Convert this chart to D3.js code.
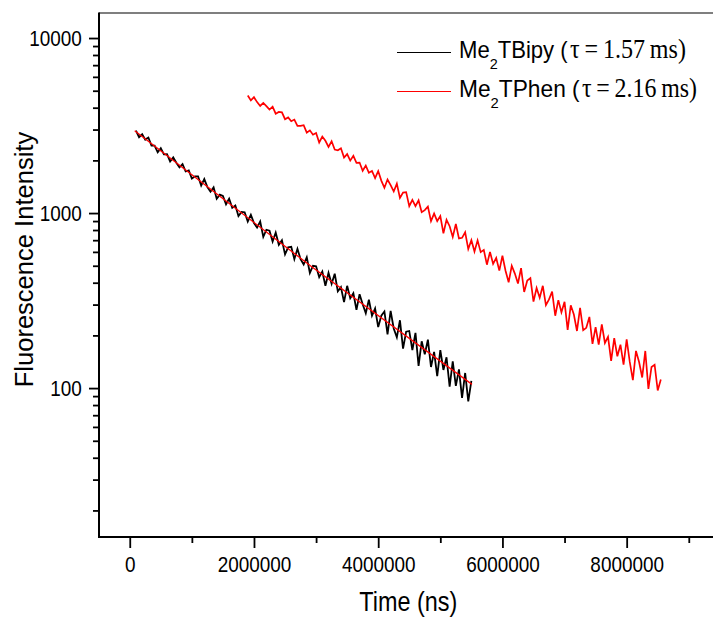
<!DOCTYPE html>
<html>
<head>
<meta charset="utf-8">
<script src="https://cdn.jsdelivr.net/npm/d3@7"></script>
<style>
  body { margin: 0; background: #fff; }
  svg { display: block; background: #fff; }
</style>
</head>
<body>
<svg id="chart" width="713" height="618"></svg>
<script>
// ---------------- DATA (time in microseconds, intensity in counts) ----------------
const bipyTime = [100,150,200,250,300,350,400,450,500,550,600,650,700,750,800,850,900,950,1000,1050,
  1100,1150,1200,1250,1300,1350,1400,1450,1500,1550,1600,1650,1700,1750,1800,1850,1900,1950,2000,2050,
  2100,2150,2200,2250,2300,2350,2400,2450,2500,2550,2600,2650,2700,2750,2800,2850,2900,2950,3000,3050,
  3100,3150,3200,3250,3300,3350,3400,3450,3500,3550,3600,3650,3700,3750,3800,3850,3900,3950,4000,4050,
  4100,4150,4200,4250,4300,4350,4400,4450,4500,4550,4600,4650,4700,4750,4800,4850,4900,4950,5000,5050,
  5100,5150,5200,5250,5300,5350,5400,5450,5500];
const bipyIntensity = [2961,2713,2821,2628,2701,2431,2428,2223,2349,2165,
  2172,1972,2081,1939,1823,1903,1728,1751,1575,1622,
  1622,1434,1563,1406,1324,1403,1206,1274,1251,1122,
  1208,1071,1105,962,1016,1011,895,976,877,826,
  895,731,803,793,687,773,659,700,581,637,
  642,545,625,545,508,559,455,500,496,430,
  463,384,455,394,450,357,377,310,384,326,
  348,280,344,301,268,320,259,285,223,259,
  274,203,276,219,195,244,168,210,212,165,
  207,134,185,156,189,132,161,117,165,127,
  150,102,142,103,128,88,122,84,110];

const phenTime = [1900,1950,2000,2050,2100,2150,2200,2250,2300,2350,2400,2450,2500,2550,2600,2650,2700,2750,2800,2850,
  2900,2950,3000,3050,3100,3150,3200,3250,3300,3350,3400,3450,3500,3550,3600,3650,3700,3750,3800,3850,
  3900,3950,4000,4050,4100,4150,4200,4250,4300,4350,4400,4450,4500,4550,4600,4650,4700,4750,4800,4850,
  4900,4950,5000,5050,5100,5150,5200,5250,5300,5350,5400,5450,5500,5550,5600,5650,5700,5750,5800,5850,
  5900,5950,6000,6050,6100,6150,6200,6250,6300,6350,6400,6450,6500,6550,6600,6650,6700,6750,6800,6850,
  6900,6950,7000,7050,7100,7150,7200,7250,7300,7350,7400,7450,7500,7550,7600,7650,7700,7750,7800,7850,
  7900,7950,8000,8050,8100,8150,8200,8250,8300,8350,8400,8450,8500,8550];
const phenIntensity = [4698,4401,4592,4305,4094,4257,4085,3904,4055,3695,
  3780,3760,3437,3518,3347,3420,3150,3146,3176,2880,
  2969,2802,2864,2531,2734,2587,2385,2570,2304,2285,
  2347,2076,2173,1994,2122,1937,1944,1744,1867,1700,
  1742,1584,1737,1533,1395,1554,1444,1329,1474,1219,
  1309,1317,1094,1190,1094,1181,1011,1039,1090,899,
  993,900,961,767,915,841,731,866,716,722,
  777,623,700,603,698,598,616,507,600,512,
  554,469,570,468,402,500,451,396,484,354,
  412,425,312,373,328,384,298,321,356,259,
  318,271,311,215,297,263,212,287,214,221,
  255,179,223,177,231,181,196,143,193,152,
  177,136,190,141,111,163,141,115,163,99,
  132,136,97,112];

// exponential fit drawn over the Me2TBipy decay
const fitTime = [80, 1450, 2930, 5510];
const fitIntensity = [2953, 1247, 493, 105];

const xMajorTicks = [0, 2000000, 4000000, 6000000, 8000000];
const xMinorTicks = [1000000, 3000000, 5000000, 7000000, 9000000];
const yMajorTicks = [100, 1000, 10000];
const yMinorTicks = [20,30,40,50,60,70,80,90,200,300,400,500,600,700,800,900,2000,3000,4000,5000,6000,7000,8000,9000];

const legendNames = ["TBipy", "TPhen"];
const legendTaus = ["1.57", "2.16"];
const legendColors = ["#000000", "#ff0000"];

// ---------------- CHART ----------------
const SANS = "'Liberation Sans', Arial, Helvetica, sans-serif";
const SERIF = "'Liberation Serif', 'Times New Roman', serif";
const svg = d3.select("#chart");

const pL = 99, pR = 713, pT = 13, pB = 537;
const x = d3.scaleLinear().domain([-495000, 9390000]).range([pL, pR]);
const y = d3.scaleLog().domain([14.1, 13900]).range([pB, pT]);

const toPts = (ts, vs) => ts.map((t, i) => [t * 1000, vs[i]]);
const line = d3.line().x(d => x(d[0])).y(d => y(d[1]));

// data
svg.append("path").datum(toPts(phenTime, phenIntensity))
  .attr("d", line).attr("fill", "none").attr("stroke", "#ff0000")
  .attr("stroke-width", 1.7).attr("stroke-linejoin", "miter");
svg.append("path").datum(toPts(bipyTime, bipyIntensity))
  .attr("d", line).attr("fill", "none").attr("stroke", "#000000")
  .attr("stroke-width", 1.8).attr("stroke-linejoin", "miter");
svg.append("path").datum(toPts(fitTime, fitIntensity))
  .attr("d", line).attr("fill", "none").attr("stroke", "#ff0000")
  .attr("stroke-width", 1.3);

// frame top line
svg.append("line").attr("x1", pL).attr("x2", pR).attr("y1", pT).attr("y2", pT)
  .attr("stroke", "#000").attr("stroke-width", 1.2);

// left axis
const gL = svg.append("g").attr("transform", `translate(${pL},0)`);
gL.call(d3.axisLeft(y).tickValues(yMajorTicks).tickSize(10).tickFormat(d3.format("d")));
gL.append("g").call(d3.axisLeft(y).tickValues(yMinorTicks).tickSize(6).tickFormat(""));
gL.selectAll(".domain").remove();
gL.selectAll(".tick line").attr("stroke", "#000").attr("stroke-width", 1.8);
gL.selectAll(".tick text")
  .attr("font-family", SANS).attr("font-size", 22).attr("fill", "#000")
  .attr("x", -17.3 / 0.86).attr("transform", "scale(0.86,1)");
svg.append("line").attr("x1", pL).attr("x2", pL).attr("y1", pT - 0.5).attr("y2", pB + 1)
  .attr("stroke", "#000").attr("stroke-width", 2);

// bottom axis
const gB = svg.append("g").attr("transform", `translate(0,${pB})`);
gB.call(d3.axisBottom(x).tickValues(xMajorTicks).tickSize(11).tickFormat(d3.format("d")));
gB.append("g").call(d3.axisBottom(x).tickValues(xMinorTicks).tickSize(6).tickFormat(""));
gB.selectAll(".domain").remove();
gB.selectAll(".tick line").attr("stroke", "#000").attr("stroke-width", 1.8);
gB.selectAll(".tick text")
  .attr("font-family", SANS).attr("font-size", 22).attr("fill", "#000")
  .attr("y", 19).attr("transform", "scale(0.86,1)");
svg.append("line").attr("x1", pL - 1).attr("x2", pR).attr("y1", pB).attr("y2", pB)
  .attr("stroke", "#000").attr("stroke-width", 2);

// helper: fit a text element to a target width starting at tx (or centered on tx)
function fitWidth(t, target, tx, ty, mode, extra) {
  const bb = t.node().getBBox();
  const s = target / bb.width;
  if (mode === "center") {
    const cx = bb.x + bb.width / 2;
    t.attr("transform", `translate(${tx},${ty}) ${extra || ""} scale(${s},1) translate(${-cx},0)`);
  } else {
    t.attr("transform", `translate(${tx},${ty}) scale(${s},1) translate(${-bb.x},0)`);
  }
}

// axis titles
const xt = svg.append("text").attr("font-family", SANS).attr("font-size", 27).attr("fill", "#000")
  .text("Time (ns)");
fitWidth(xt, 98, 408.3, 610.7, "center");

const yt = svg.append("text").attr("font-family", SANS).attr("font-size", 26).attr("fill", "#000")
  .text("Fluorescence Intensity");
fitWidth(yt, 255.6, 33.3, 259.5, "center", "rotate(-90)");

// legend
const legendY = [58.3, 97.3];
const legendSansEnd = [568, 580];
const legendEnd = [686, 697];
legendNames.forEach((n, i) => {
  const ly = Math.round(legendY[i] - 6.8) + 0.5;
  svg.append("line").attr("x1", 397).attr("x2", 451).attr("y1", ly).attr("y2", ly)
    .attr("stroke", legendColors[i]).attr("stroke-width", 1);
  const t = svg.append("text").attr("font-family", SANS).attr("font-size", 23).attr("fill", "#000");
  t.append("tspan").text("Me");
  t.append("tspan").attr("font-size", 15).attr("dy", 11).text("2");
  t.append("tspan").attr("dy", -11).text(n + " (");
  fitWidth(t, legendSansEnd[i] - 459, 459, legendY[i], "start");
  const s = svg.append("text").attr("font-family", SERIF).attr("font-size", 28).attr("fill", "#000")
    .text("\u03C4\u2009=\u2009" + legendTaus[i] + "\u2009ms)");
  fitWidth(s, legendEnd[i] - legendSansEnd[i] - 2, legendSansEnd[i] + 2, legendY[i], "start");
});
</script>
</body>
</html>
